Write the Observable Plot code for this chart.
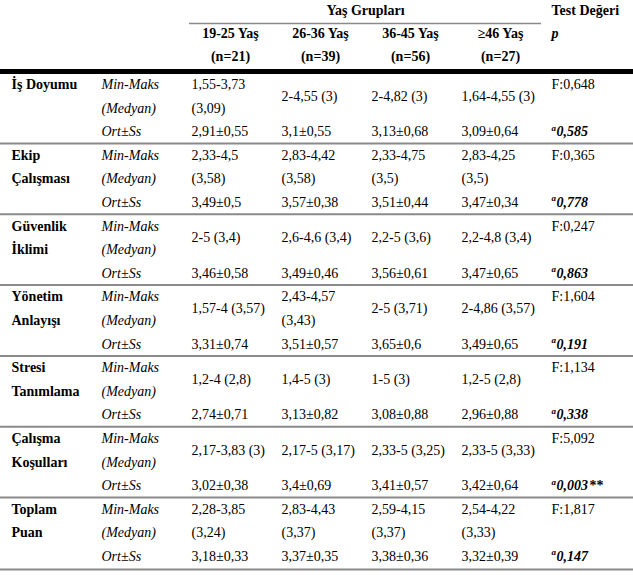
<!DOCTYPE html>
<html>
<head>
<meta charset="utf-8">
<script src="https://cdn.jsdelivr.net/npm/d3@7"></script>
<script src="https://cdn.jsdelivr.net/npm/@observablehq/plot@0.6"></script>
<style>
  html, body { margin: 0; padding: 0; background: #fff; overflow: hidden; }
  svg { display: block; }
  svg text { font-family: "Liberation Serif", "Times New Roman", serif; }
</style>
</head>
<body>
<div id="chart"></div>
<script>
// ---------- data ----------
const rowLabels = [
  ["İş Doyumu", ""], ["Ekip", "Çalışması"], ["Güvenlik", "İklimi"],
  ["Yönetim", "Anlayışı"], ["Stresi", "Tanımlama"], ["Çalışma", "Koşulları"], ["Toplam", "Puan"]
];
const statLabels = ["Min-Maks", "(Medyan)", "Ort±Ss"];
const ageGroups = ["19-25 Yaş", "26-36 Yaş", "36-45 Yaş", "≥46 Yaş"];
const groupSizes = ["(n=21)", "(n=39)", "(n=56)", "(n=27)"];
const minMax = [
  ["1,55-3,73", "2-4,55", "2-4,82", "1,64-4,55"],
  ["2,33-4,5", "2,83-4,42", "2,33-4,75", "2,83-4,25"],
  ["2-5", "2,6-4,6", "2,2-5", "2,2-4,8"],
  ["1,57-4", "2,43-4,57", "2-5", "2-4,86"],
  ["1,2-4", "1,4-5", "1-5", "1,2-5"],
  ["2,17-3,83", "2,17-5", "2,33-5", "2,33-5"],
  ["2,28-3,85", "2,83-4,43", "2,59-4,15", "2,54-4,22"]
];
const medians = [
  ["(3,09)", "(3)", "(3)", "(3)"],
  ["(3,58)", "(3,58)", "(3,5)", "(3,5)"],
  ["(3,4)", "(3,4)", "(3,6)", "(3,4)"],
  ["(3,57)", "(3,43)", "(3,71)", "(3,57)"],
  ["(2,8)", "(3)", "(3)", "(2,8)"],
  ["(3)", "(3,17)", "(3,25)", "(3,33)"],
  ["(3,24)", "(3,37)", "(3,37)", "(3,33)"]
];
const meanSd = [
  ["2,91±0,55", "3,1±0,55", "3,13±0,68", "3,09±0,64"],
  ["3,49±0,5", "3,57±0,38", "3,51±0,44", "3,47±0,34"],
  ["3,46±0,58", "3,49±0,46", "3,56±0,61", "3,47±0,65"],
  ["3,31±0,74", "3,51±0,57", "3,65±0,6", "3,49±0,65"],
  ["2,74±0,71", "3,13±0,82", "3,08±0,88", "2,96±0,88"],
  ["3,02±0,38", "3,4±0,69", "3,41±0,57", "3,42±0,64"],
  ["3,18±0,33", "3,37±0,35", "3,38±0,36", "3,32±0,39"]
];
const fValues = ["F:0,648", "F:0,365", "F:0,247", "F:1,604", "F:1,134", "F:5,092", "F:1,817"];
const pValues = ["0,585", "0,778", "0,863", "0,191", "0,338", "0,003", "0,147"];
const pStars = ["", "", "", "", "", "**", ""];
const footnote = "ᵃOne-way ANOVA testi, **p<0,01";

// ---------- layout helpers (columns / sub-rows) ----------
const cols = ["label", "sub", "c1", "c2", "c3", "c4", "p"];
const ageCols = ["c1", "c2", "c3", "c4"];
const wrapLimit = 13; // a cell wraps onto two lines when longer

const boldCells = [], italicCells = [], plainCells = [];
rowLabels.forEach((lab, g) => {
  const r0 = g * 3;
  boldCells.push({x: "label", y: r0, t: lab[0]});
  if (lab[1]) boldCells.push({x: "label", y: r0 + 1, t: lab[1]});
  statLabels.forEach((s, i) => italicCells.push({x: "sub", y: r0 + i, t: s}));
  ageCols.forEach((c, a) => {
    const combined = minMax[g][a] + " " + medians[g][a];
    if (combined.length > wrapLimit) {
      plainCells.push({x: c, y: r0, t: minMax[g][a]});
      plainCells.push({x: c, y: r0 + 1, t: medians[g][a]});
    } else {
      plainCells.push({x: c, y: r0 + 0.5, t: combined});
    }
    plainCells.push({x: c, y: r0 + 2, t: meanSd[g][a]});
  });
  plainCells.push({x: "p", y: r0, t: fValues[g]});
});
const pCells = pValues.map((v, g) => ({x: "p", y: g * 3 + 2, t: v, s: pStars[g]}));
const separators = d3.range(rowLabels.length - 1).map(g => g * 3 + 2.5);

const font = "Liberation Serif";
const fs = 14;
const common = {fontSize: fs, fontFamily: font, textAnchor: "start", fill: "#000"};

const plot = Plot.plot({
  width: 633,
  height: 575,
  margin: 0,
  style: {fontFamily: font, background: "#fff", color: "#000"},
  x: {type: "point", domain: cols, range: [8, 553], padding: 0, axis: null},
  y: {type: "linear", domain: [0, 20], range: [84, 556], axis: null},
  marks: [
    // header
    Plot.text(["Yaş Grupları"], {...common, x: () => "c3", y: () => -3.13, text: d => d, fontWeight: "bold", textAnchor: "middle", dx: -6}),
    Plot.text(["Test Değeri"], {...common, x: () => "p", y: () => -3.13, text: d => d, fontWeight: "bold"}),
    Plot.ruleY([-2.58], {x1: () => "c1", x2: () => "p", insetLeft: -2, insetRight: 10, stroke: "#8a8a8a", strokeWidth: 1.5}),
    Plot.text(ageGroups, {...common, x: (d, i) => ageCols[i], y: () => -2.16, text: d => d, fontWeight: "bold", textAnchor: "middle", dx: 39}),
    Plot.text(groupSizes, {...common, x: (d, i) => ageCols[i], y: () => -1.2, text: d => d, fontWeight: "bold", textAnchor: "middle", dx: 39}),
    Plot.text(["p"], {...common, x: () => "p", y: () => -2.16, text: d => d, fontWeight: "bold", fontStyle: "italic"}),
    Plot.ruleY([-0.55], {stroke: "#000", strokeWidth: 5}),
    // body
    Plot.text(boldCells, {...common, x: "x", y: "y", text: "t", fontWeight: "bold"}),
    Plot.text(italicCells, {...common, x: "x", y: "y", text: "t", fontStyle: "italic"}),
    Plot.text(plainCells, {...common, x: "x", y: "y", text: "t"}),
    Plot.text(pCells, {...common, x: "x", y: "y", text: () => "a", fontWeight: "bold", fontStyle: "italic", fontSize: 9, dy: -4}),
    Plot.text(pCells, {...common, x: "x", y: "y", text: "t", fontWeight: "bold", fontStyle: "italic", dx: 5}),
    Plot.text(pCells.filter(d => d.s), {...common, x: "x", y: "y", text: "s", fontWeight: "bold", dx: 38}),
    Plot.ruleY(separators, {stroke: "#8a8a8a", strokeWidth: 2}),
    Plot.ruleY([20.55], {stroke: "#8a8a8a", strokeWidth: 2}),
    Plot.text([footnote], {...common, x: () => "label", y: () => 20.98, text: d => d, fontSize: 10})
  ]
});
document.getElementById("chart").appendChild(plot);
</script>
</body>
</html>
